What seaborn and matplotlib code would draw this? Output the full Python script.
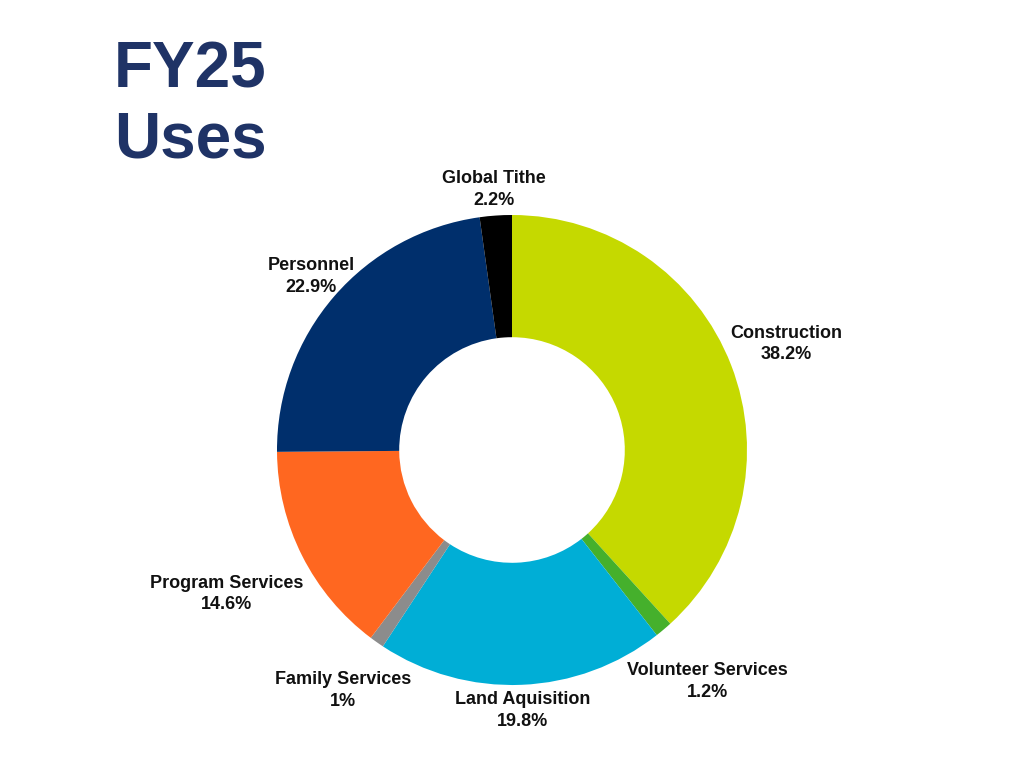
import numpy as np
import matplotlib
matplotlib.use("Agg")
import matplotlib.pyplot as plt
import seaborn as sns

# data
categories = ["Construction", "Volunteer Services", "Land Aquisition", "Family Services",
              "Program Services", "Personnel", "Global Tithe"]
shares = [38.2, 1.2, 19.8, 1.0, 14.6, 22.9, 2.2]
pct_labels = ["38.2%", "1.2%", "19.8%", "1%", "14.6%", "22.9%", "2.2%"]
colors = ["#C5D900", "#45B02C", "#00AED6", "#8C8C8C", "#FF6720", "#002F6C", "#000000"]

# how far out each label sits (in radii)
label_dist = [1.25, 1.29, 1.11, 1.25, 1.36, 1.13, 1.11]

sns.set_theme(style="white")
plt.rcParams['font.family'] = ['Liberation Sans', 'DejaVu Sans']

fig = plt.figure(figsize=(10.24, 7.68), dpi=100)
# square axes, radius 235 px, centre at (512, 450) from top
ax = fig.add_axes([277 / 1024, 83 / 768, 470 / 1024, 470 / 768])

wedges, _ = ax.pie(shares, colors=colors, startangle=90, counterclock=False,
                   radius=1.0, wedgeprops=dict(width=0.52, linewidth=0))
ax.set_xlim(-1, 1)
ax.set_ylim(-1, 1)
ax.set_aspect("equal")
ax.axis("off")

for w, name, pct, d in zip(wedges, categories, pct_labels, label_dist):
    ang = np.deg2rad((w.theta1 + w.theta2) / 2)
    ax.text(d * np.cos(ang), d * np.sin(ang), f"{name}\n{pct}",
            ha="center", va="center", fontsize=13, fontweight="bold",
            color="#111111", linespacing=1.35, clip_on=False)

fig.text(114 / 1024, 1 - 88 / 768, "FY25", fontsize=46, fontweight="bold",
         color="#1F3366", ha="left", va="baseline")
fig.text(114 / 1024, 1 - 157 / 768, "Uses", fontsize=46, fontweight="bold",
         color="#1F3366", ha="left", va="baseline")

fig.savefig("out.png", dpi=100, facecolor="white")
